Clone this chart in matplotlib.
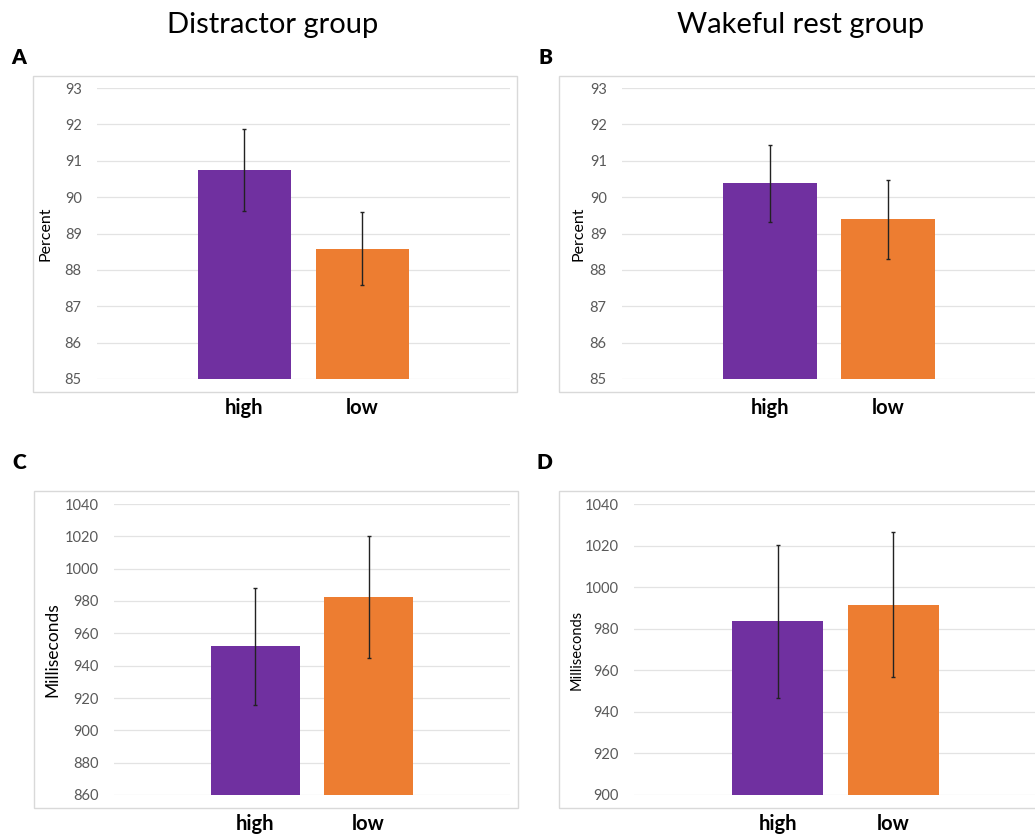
import matplotlib
matplotlib.use("Agg")
import matplotlib.pyplot as plt
from matplotlib.patches import Rectangle

plt.rcParams['font.family'] = ['Lato', 'DejaVu Sans']

categories = ["high", "low"]
colors = ["#7030A0", "#ED7D31"]

acc_distractor = [90.75, 88.58]
acc_distractor_err = [1.13, 1.00]
acc_wakeful = [90.38, 89.39]
acc_wakeful_err = [1.06, 1.08]

rt_distractor = [951.9, 982.4]
rt_distractor_err = [36.1, 37.5]
rt_wakeful = [983.5, 991.5]
rt_wakeful_err = [36.7, 34.9]

titles = ["Distractor group", "Wakeful rest group"]
panel_letters = ["A", "B", "C", "D"]

W, H = 1035, 836
fig = plt.figure(figsize=(W / 100, H / 100), dpi=100)

def px_axes(x0, y0, x1, y1):
    return fig.add_axes([x0 / W, (H - y1) / H, (x1 - x0) / W, (y1 - y0) / H])

def box(x0, y0, x1, y1):
    fig.patches.append(Rectangle((x0 / W, (H - y1) / H), (x1 - x0) / W, (y1 - y0) / H,
                                 transform=fig.transFigure, fill=False,
                                 edgecolor="#d9d9d9", linewidth=1.0))

def panel(ax, vals, errs, ylim, step, ylabel, ylab_size):
    x = list(range(len(categories)))
    ax.bar(x, vals, width=0.79, color=colors, bottom=0, zorder=2)
    ax.errorbar(x, vals, yerr=errs, fmt="none", ecolor="#222222", elinewidth=1.0,
                capsize=1.2, capthick=1.0, zorder=3)
    ax.set_xlim(-1.25, 2.25)
    ax.set_ylim(ylim[0], ylim[1])
    ticks = list(range(ylim[0], ylim[1] + 1, step))
    ax.set_yticks(ticks)
    ax.set_xticks(x)
    ax.set_xticklabels(categories, fontsize=14.5, fontweight="bold", color="black")
    for s in ax.spines.values():
        s.set_visible(False)
    ax.tick_params(axis="both", length=0)
    ax.tick_params(axis="y", labelsize=10.5, labelcolor="#595959", pad=11)
    ax.tick_params(axis="x", pad=14)
    ax.yaxis.grid(True, color="#e3e3e3", linewidth=0.9, zorder=0)
    ax.set_axisbelow(True)
    ax.set_ylabel(ylabel, fontsize=ylab_size, color="black")
    ax.patch.set_alpha(0)

# borders
box(33, 76, 517, 392)
box(559, 76, 1045, 392)
box(34, 491, 518, 808)
box(559, 491, 1045, 808)

axA = px_axes(97, 88, 510, 379)
panel(axA, acc_distractor, acc_distractor_err, (85, 93), 1, "Percent", 11.5)
axB = px_axes(622, 88, 1036, 379)
panel(axB, acc_wakeful, acc_wakeful_err, (85, 93), 1, "Percent", 11.5)
axC = px_axes(114, 504, 510, 795)
panel(axC, rt_distractor, rt_distractor_err, (860, 1040), 20, "Milliseconds", 12.5)
axD = px_axes(634, 504, 1037, 795)
panel(axD, rt_wakeful, rt_wakeful_err, (900, 1040), 20, "Milliseconds", 10.5)

axA.yaxis.set_label_coords(-0.107, 0.5)
axB.yaxis.set_label_coords(-0.087, 0.5)
axC.yaxis.set_label_coords(-0.136, 0.5)
axD.yaxis.set_label_coords(-0.124, 0.5)

fig.text(273 / W, 1 - 25 / H, titles[0], ha="center", va="center", fontsize=21)
fig.text(801 / W, 1 - 25 / H, titles[1], ha="center", va="center", fontsize=21)

for (lx, ly), lt in zip([(11, 57), (539, 57), (12, 462), (537, 462)], panel_letters):
    fig.text(lx / W, 1 - ly / H, lt, ha="left", va="center", fontsize=15, fontweight="heavy")

fig.savefig("out.png", dpi=100, facecolor="white")
